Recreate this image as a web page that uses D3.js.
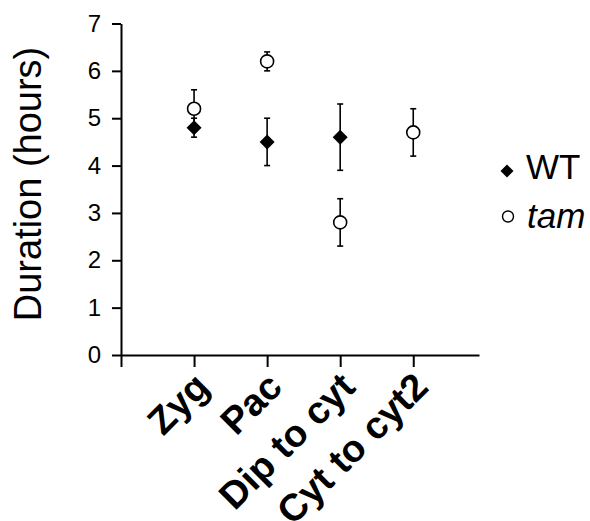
<!DOCTYPE html>
<html>
<head>
<meta charset="utf-8">
<script src="https://cdn.jsdelivr.net/npm/d3@7"></script>
<style>
  body { margin: 0; background: #fff; }
  svg { display: block; font-family: Arial, "Liberation Sans", sans-serif; }
</style>
</head>
<body>
<div id="canvas"><svg width="590" height="521"></svg></div>
<script>
// chart data
var categories = ["Zyg", "Pac", "Dip to cyt", "Cyt to cyt2"];
var wtMean = [4.8, 4.5, 4.6, null];
var wtErr  = [0.2, 0.5, 0.7, null];
var tamMean = [5.2, 6.2, 2.8, 4.7];
var tamErr  = [0.4, 0.2, 0.5, 0.5];
var yTicks = [0, 1, 2, 3, 4, 5, 6, 7];

var svg = d3.select("#canvas svg");

// x is a linear scale, categories sit at 1..4
var x = d3.scaleLinear().domain([0, 4.9]).range([121, 479]);
var y = d3.scaleLinear().domain([0, 7]).range([355, 23.5]);

// y axis
var yAxis = svg.append("g")
    .attr("transform", "translate(121,0)")
    .call(d3.axisLeft(y).tickValues(yTicks).tickFormat(d3.format("d"))
        .tickSize(9).tickSizeOuter(0).tickPadding(11));
yAxis.select(".domain").attr("stroke", "#000").attr("stroke-width", 2);
yAxis.selectAll(".tick line").attr("stroke", "#000").attr("stroke-width", 2);
yAxis.selectAll(".tick text")
    .attr("font-size", 24)
    .attr("font-family", "Arial, 'Liberation Sans', sans-serif")
    .attr("fill", "#000");

// x axis, ticks only, labels drawn separately (rotated)
var xAxis = svg.append("g")
    .attr("transform", "translate(0,355)")
    .call(d3.axisBottom(x).tickValues([0, 1, 2, 3, 4]).tickSize(12).tickSizeOuter(0).tickFormat(""));
xAxis.select(".domain").attr("stroke", "#000").attr("stroke-width", 2);
xAxis.selectAll(".tick line").attr("stroke", "#000").attr("stroke-width", 2);

svg.append("g").selectAll("text")
    .data(categories)
    .enter()
    .append("text")
    .attr("transform", function (d, i) {return "translate(" + (x(i + 1) + 17) + ",389) rotate(-45)";})
    .attr("text-anchor", "end")
    .attr("font-size", 38)
    .attr("font-weight", "bold")
    .text(function (d) {return d;});

// y axis title
svg.append("text")
    .attr("transform", "translate(41,184) rotate(-90)")
    .attr("text-anchor", "middle")
    .attr("font-size", 38)
    .text("Duration (hours)");

// build point rows
var tamPts = tamMean.map(function (m, i) {return {i: i, m: m, e: tamErr[i]};}).filter(function (d) {return d.m != null;});
var wtPts = wtMean.map(function (m, i) {return {i: i, m: m, e: wtErr[i]};}).filter(function (d) {return d.m != null;});

function errorBars(g, pts) {
    var bar = g.selectAll("g").data(pts).enter().append("g")
        .attr("stroke", "#000").attr("stroke-width", 1.6);
    bar.append("line")
        .attr("x1", function (d) {return x(d.i + 1);})
        .attr("x2", function (d) {return x(d.i + 1);})
        .attr("y1", function (d) {return y(d.m - d.e);})
        .attr("y2", function (d) {return y(d.m + d.e);});
    [-1, 1].forEach(function (s) {
        bar.append("line")
            .attr("x1", function (d) {return x(d.i + 1) - 3;})
            .attr("x2", function (d) {return x(d.i + 1) + 3;})
            .attr("y1", function (d) {return y(d.m + s * d.e);})
            .attr("y2", function (d) {return y(d.m + s * d.e);});
    });
}

errorBars(svg.append("g"), tamPts);
errorBars(svg.append("g"), wtPts);

var diamond = "M0,-7.5L7.5,0L0,7.5L-7.5,0Z";

svg.append("g").selectAll("circle")
    .data(tamPts)
    .enter()
    .append("circle")
    .attr("cx", function (d) {return x(d.i + 1);})
    .attr("cy", function (d) {return y(d.m);})
    .attr("r", 6.5)
    .attr("fill", "#fff")
    .attr("stroke", "#000")
    .attr("stroke-width", 1.6);

svg.append("g").selectAll("path")
    .data(wtPts)
    .enter()
    .append("path")
    .attr("d", diamond)
    .attr("transform", function (d) {return "translate(" + x(d.i + 1) + "," + y(d.m) + ")";})
    .attr("fill", "#000");

// legend
var legend = svg.append("g");
legend.append("path")
    .attr("d", "M0,-6.5L6.5,0L0,6.5L-6.5,0Z")
    .attr("transform", "translate(507,171)")
    .attr("fill", "#000");
legend.append("text")
    .attr("x", 526).attr("y", 179)
    .attr("font-size", 35)
    .text("WT");
legend.append("circle")
    .attr("cx", 508).attr("cy", 216.5).attr("r", 5.5)
    .attr("fill", "#fff").attr("stroke", "#000").attr("stroke-width", 1.4);
legend.append("text")
    .attr("x", 527).attr("y", 228)
    .attr("font-size", 35)
    .attr("font-style", "italic")
    .text("tam");
</script>
</body>
</html>
